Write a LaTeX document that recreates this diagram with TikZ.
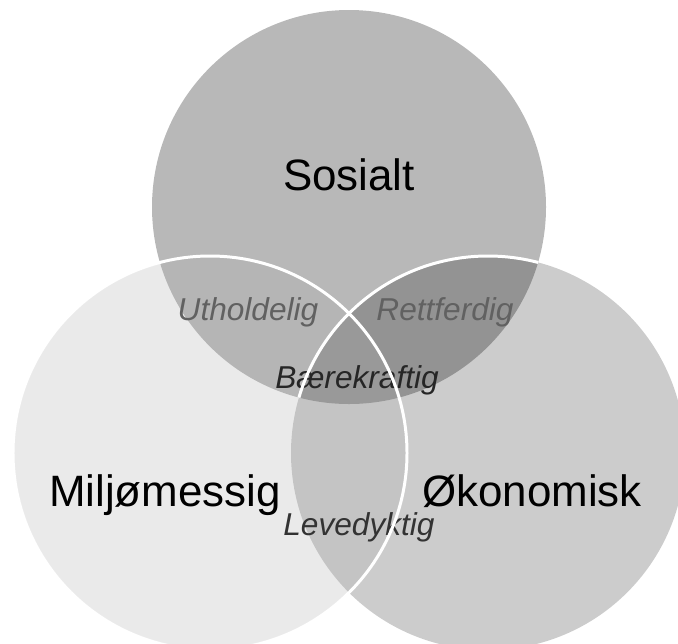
\documentclass[tikz,border=0pt]{standalone}
\usepackage{fontspec}
\setmainfont{Liberation Sans}

\begin{document}
\begin{tikzpicture}[x=0.02cm,y=0.02cm,
    disc/.style={fill=#1},
    rim/.style={draw=white,line width=1.7pt},
    big/.style={anchor=base,font=\fontsize{25}{30}\selectfont},
    small/.style={anchor=base,font=\fontsize{18}{22}\selectfont\itshape}]
  \clip (0,0) rectangle (678,-643);
  \coordinate (sos) at (349,-207);
  \coordinate (mil) at (210,-453);
  \coordinate (oko) at (488,-453);
  % the three circles
  \fill[disc=black!28] (sos) circle[radius=197];
  \fill[disc=black,fill opacity=0.2] (oko) circle[radius=197];
  \fill[disc=black!32,fill opacity=0.25] (mil) circle[radius=197];
  % labels
  \node[big] (sosialt) at (349,-190) {Sosialt};
  \node[big] (miljo) at (165,-506) {Miljømessig};
  \node[big] (okonom) at (532,-506) {Økonomisk};
  \node[small,text=black!62] (uthold) at (248,-320) {Utholdelig};
  \node[small,text=black!62] (rettf) at (445,-320) {Rettferdig};
  \node[small,text=black!85] (baer) at (357,-388) {Bærekraftig};
  \node[small,text=black!80] (leve) at (359,-535) {Levedyktig};
  % white edges
  \draw[rim] (mil) circle[radius=197];
  \begin{scope}
    \clip (sos) circle[radius=197];
    \draw[rim] (oko) circle[radius=197];
  \end{scope}
\end{tikzpicture}
\end{document}
